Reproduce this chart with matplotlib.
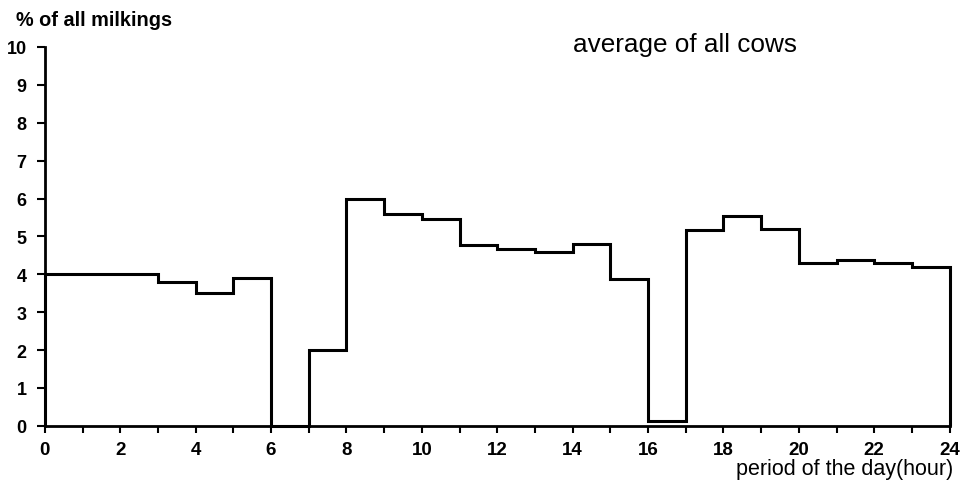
import numpy as np
import matplotlib.pyplot as plt

plt.rcParams['font.family'] = ['Liberation Sans', 'DejaVu Sans']

# hourly share of milkings (% of all milkings), hour 0..24
hour_edges = list(range(0, 25))
milk_pct = [4.0, 4.0, 4.0, 3.8, 3.5, 3.9, 0.0, 2.0, 6.0, 5.6, 5.45, 4.78,
            4.68, 4.6, 4.8, 3.88, 0.12, 5.18, 5.55, 5.2, 4.3, 4.38, 4.3, 4.18]
major_ticks = list(range(0, 25, 2))
y_ticks = list(range(0, 11))

fig = plt.figure(figsize=(9.74, 4.89), dpi=100)
ax = fig.add_axes([0.046, 0.127, 0.929, 0.775])

ax.stairs(milk_pct, hour_edges, baseline=0, color='black', linewidth=2.2,
          clip_on=False, zorder=3)

ax.set_xlim(0, 24)
ax.set_ylim(0, 10)
ax.set_xticks(major_ticks)
ax.set_xticks(hour_edges, minor=True)
ax.set_yticks(y_ticks)
ax.set_xticklabels([str(t) for t in major_ticks], fontsize=13.5, fontweight='bold')
ax.set_yticklabels([str(t) for t in y_ticks], fontsize=13, fontweight='bold')

for s in ['top', 'right']:
    ax.spines[s].set_visible(False)
for s in ['left', 'bottom']:
    ax.spines[s].set_linewidth(2)

ax.tick_params(axis='both', which='both', direction='out', width=1.5)
ax.tick_params(axis='x', which='both', length=5, pad=6)
ax.tick_params(axis='y', length=6, pad=7)

fig.text(0.016, 0.959, '% of all milkings', fontsize=14.3, fontweight='bold',
         va='center', ha='left')
fig.text(0.588, 0.908, 'average of all cows', fontsize=18.8,
         va='center', ha='left')
fig.text(0.979, 0.039, 'period of the day(hour)', fontsize=15.5,
         va='center', ha='right')

fig.savefig('out.png', dpi=100)
